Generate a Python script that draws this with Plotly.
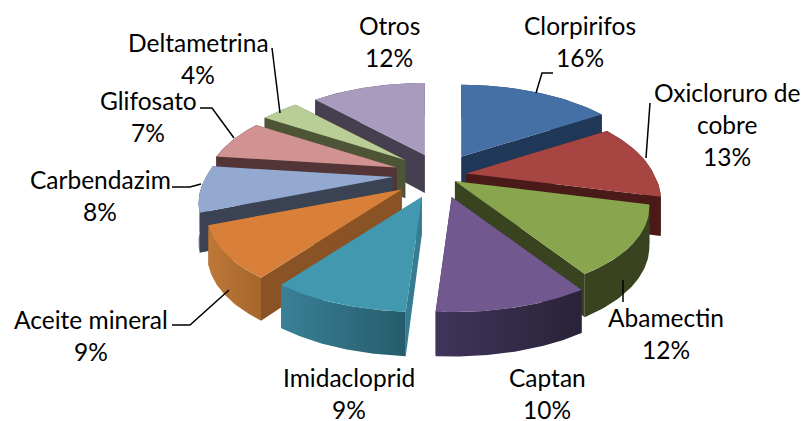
import math
import plotly.graph_objects as go

categories = ["Clorpirifos", "Oxicloruro de\ncobre", "Abamectin", "Captan", "Imidacloprid",
              "Aceite mineral", "Carbendazim", "Glifosato", "Deltametrina", "Otros"]
values = [16, 13, 12, 10, 9, 9, 8, 7, 4, 12]
top_colors = ["#4470A5", "#A64542", "#89A54E", "#71588F", "#4198AF",
              "#D8803A", "#93A9CF", "#D19392", "#B9CD96", "#A99BBD"]
radial_colors = ["#203858", "#4A1A18", "#3A431F", "#2E2540", "#367D92",
                 "#8A5325", "#3A4254", "#533537", "#4E5537", "#453F50"]
outer_left = ["#203858", "#4A1A18", "#3A431F", "#40355A", "#3A8096",
              "#BE7838", "#3A4254", "#533537", "#4E5537", "#453F50"]
outer_right = ["#203858", "#4A1A18", "#3A431F", "#2A2238", "#265C6C",
               "#A5662C", "#3A4254", "#533537", "#4E5537", "#453F50"]
draw_order = [9, 0, 8, 7, 6, 1, 2, 5, 4, 3]
nudges = [(14, -5), (0, 0), (-6, -5), (12, 4), (5, 4.5), (2, 3), (0, -1), (1, -3), (3, -5.5), (8, -6)]
label_pos = [(580, 25), (727, 92), (666, 317), (547, 377), (349, 377),
             (91, 319), (100, 179), (148, 100), (198, 42), (389, 25)]
leaders = [[(536, 93), (542, 73), (553, 73)], [(646, 158), (650, 103)], [(623, 280), (623, 302)],
           [(172, 325), (190, 325), (229, 290)], [(172, 187), (190, 187), (201, 184)],
           [(200, 108), (212, 108), (234, 138)], [(272, 48), (280, 113)]]

CX, CY, F, G, K, EXPLODE, DEPTH = 430, 176, 187, 88.6, 0.23, 0.19, 38
LINE_GAP = 32


def project(r, deg):
    t = math.radians(deg)
    x, z = r * math.sin(t), r * math.cos(t)
    s = 1 / (1 + K * z)
    sx = s ** 1.2 if s > 1 else s
    return F * x * sx, -G * z * s, s


fig = go.Figure()


def poly(pts, color=None, gradient=None):
    xs = [p[0] for p in pts] + [pts[0][0]]
    ys = [p[1] for p in pts] + [pts[0][1]]
    kw = dict(fillgradient=gradient) if gradient else dict(fillcolor=color)
    fig.add_trace(go.Scatter(x=xs, y=ys, mode="lines", fill="toself",
                             line=dict(width=0, color="rgba(0,0,0,0)"),
                             hoverinfo="skip", showlegend=False, **kw))


total = sum(values)
starts, acc = [], 0
for v in values:
    starts.append(acc)
    acc += v

for i in draw_order:
    a0 = starts[i] / total * 360
    a1 = (starts[i] + values[i]) / total * 360
    mid = (a0 + a1) / 2
    ex, ey, _ = project(EXPLODE, mid)
    ax, ay = CX + ex * 195 / F + nudges[i][0], CY + ey + nudges[i][1]
    n = 40
    arc = []
    for j in range(n + 1):
        a = a0 + (a1 - a0) * j / n
        dx, dy, s = project(1, a)
        arc.append((ax + dx, ay + dy, s))
    hd = lambda s: DEPTH * s ** 0.6
    top = [(p[0], p[1]) for p in arc]
    apex_bottom = (ax, ay + DEPTH)
    # radial walls
    for p in (arc[0], arc[-1]):
        poly([(ax, ay), (p[0], p[1]), (p[0], p[1] + hd(p[2])), apex_bottom], color=radial_colors[i])
    # outer wall
    wall = top + [(p[0], p[1] + hd(p[2])) for p in reversed(arc)]
    poly(wall, gradient=dict(type="horizontal",
                             colorscale=[[0, outer_left[i]], [1, outer_right[i]]]))
    poly([(ax, ay)] + top, color=top_colors[i])

for seg in leaders:
    fig.add_trace(go.Scatter(x=[p[0] for p in seg], y=[p[1] for p in seg], mode="lines",
                             line=dict(color="black", width=1.5), hoverinfo="skip", showlegend=False))

for i, cat in enumerate(categories):
    lines = cat.split("\n") + [f"{values[i]}%"]
    for j, txt in enumerate(lines):
        fig.add_annotation(x=label_pos[i][0], y=label_pos[i][1] + j * LINE_GAP, text=txt,
                           showarrow=False, xanchor="center", yanchor="middle",
                           font=dict(family="Lato", size=24.5, color="black"))

fig.update_layout(width=801, height=421, margin=dict(l=0, r=0, t=0, b=0),
                  paper_bgcolor="white", plot_bgcolor="white", showlegend=False,
                  xaxis=dict(range=[0, 801], visible=False, fixedrange=True),
                  yaxis=dict(range=[421, 0], visible=False, fixedrange=True))
fig.write_html("out.html", config={"displayModeBar": False},
               post_script="document.body.style.margin='0';document.body.style.overflow='hidden';")
